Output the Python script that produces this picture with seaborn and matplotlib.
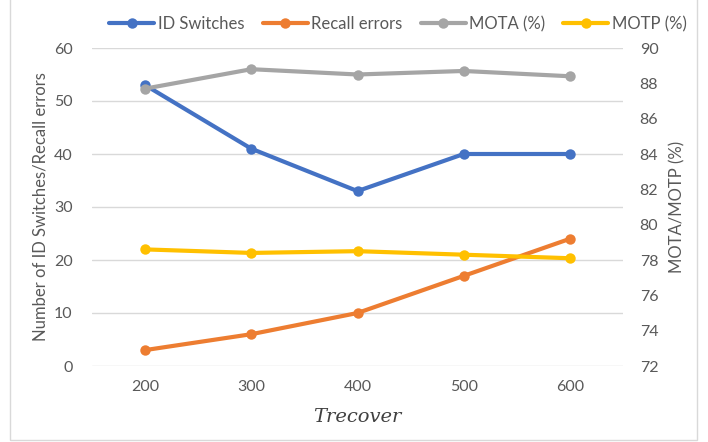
import matplotlib
matplotlib.use('Agg')
import matplotlib.pyplot as plt
import matplotlib.patches as mpatches
from matplotlib.lines import Line2D
import seaborn as sns
import pandas as pd

# data
trecover = [200, 300, 400, 500, 600]
id_switches = [53, 41, 33, 40, 40]
recall_errors = [3, 6, 10, 17, 24]
mota = [87.7, 88.8, 88.5, 88.7, 88.4]
motp = [78.6, 78.4, 78.5, 78.3, 78.1]

left_ticks = [0, 10, 20, 30, 40, 50, 60]
right_ticks = [72, 74, 76, 78, 80, 82, 84, 86, 88, 90]

colors = {'ID Switches': '#4472C4', 'Recall errors': '#ED7D31',
          'MOTA (%)': '#A5A5A5', 'MOTP (%)': '#FFC000'}

sns.set_style('white')
plt.rcParams['font.family'] = ['Lato', 'DejaVu Sans']

df_left = pd.DataFrame({'Trecover': trecover * 2,
                        'value': id_switches + recall_errors,
                        'series': ['ID Switches'] * 5 + ['Recall errors'] * 5})
df_right = pd.DataFrame({'Trecover': trecover * 2,
                         'value': mota + motp,
                         'series': ['MOTA (%)'] * 5 + ['MOTP (%)'] * 5})

fig = plt.figure(figsize=(7.08, 4.42), dpi=100)
ax = fig.add_axes([92 / 708, 1 - 366 / 442, 531 / 708, 318 / 442])
ax2 = ax.twinx()

line_kw = dict(linewidth=3, marker='o', markersize=7.5, markeredgewidth=0)
sns.lineplot(df_left, x='Trecover', y='value', hue='series', palette=colors,
             ax=ax, legend=False, **line_kw)
sns.lineplot(df_right, x='Trecover', y='value', hue='series', palette=colors,
             ax=ax2, legend=False, **line_kw)

tick_color = '#595959'
ax.set_xlim(150, 650)
ax.set_ylim(0, 60)
ax2.set_ylim(72, 90)
ax.set_xticks(trecover)
ax.set_yticks(left_ticks)
ax2.set_yticks(right_ticks)
ax.grid(axis='y', color='#D9D9D9', linewidth=1)
ax.grid(axis='x', visible=False)
ax2.grid(False)
for a in (ax, ax2):
    for s in a.spines.values():
        s.set_visible(False)
    a.tick_params(length=0, labelsize=11.5, labelcolor=tick_color)
ax.tick_params(axis='y', pad=14)
ax2.tick_params(axis='y', pad=12)
ax.tick_params(axis='x', pad=10)

ax.set_ylabel('Number of ID Switches/Recall errors', fontsize=12,
              color=tick_color, labelpad=4)
ax2.set_ylabel('MOTA/MOTP (%)', fontsize=12, color=tick_color, labelpad=8)
ax.set_xlabel('Trecover', fontsize=14, color='#404040', style='italic',
              family='DejaVu Serif', labelpad=10)

handles = [Line2D([0], [0], color=c, linewidth=3, marker='o', markersize=7.5,
                  markeredgewidth=0) for c in colors.values()]
fig.legend(handles, list(colors.keys()), loc='center', ncol=4,
           bbox_to_anchor=(398 / 708, 1 - 24 / 442), frameon=False, fontsize=12,
           handlelength=2.7, handletextpad=0.2, columnspacing=1.1,
           labelcolor=tick_color)

# light chart border
fig.patches.append(mpatches.Rectangle((10 / 708, 2 / 442), 687 / 708, 1.1,
                                      transform=fig.transFigure, fill=False,
                                      edgecolor='#D9D9D9', linewidth=1))

fig.savefig('out.png', dpi=100)
